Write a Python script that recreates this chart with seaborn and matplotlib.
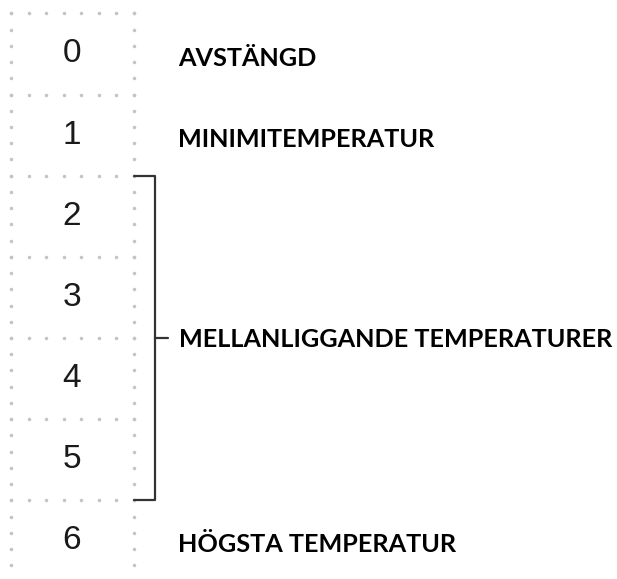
import numpy as np
import pandas as pd
import seaborn as sns
import matplotlib.pyplot as plt

# Heat levels and their descriptions
levels = [0, 1, 2, 3, 4, 5, 6]
labels = ['AVSTÄNGD', 'MINIMITEMPERATUR', '', '', '', '', 'HÖGSTA TEMPERATUR']
group_levels = [2, 5]
group_label = 'MELLANLIGGANDE TEMPERATURER'

df = pd.DataFrame({'level': levels, 'label': labels})

sns.set_theme(style='white')
fig = plt.figure(figsize=(6.17, 5.79), dpi=100)
ax = fig.add_axes([0, 0, 1, 1])

# x in pixels, y in level units (row height ~81 px)
ax.set_xlim(0, 617)
ax.set_ylim(6.47, -0.665)
ax.axis('off')

# dotted grid of boxes (dot spacing ~17 px)
dot = dict(color='#c4c4c4', linestyle='', marker='.', markersize=3)
edges = np.array(levels + [levels[-1] + 1]) - 0.5
xs = np.linspace(11, 134, 8)
for e in edges:
    ax.plot(xs, np.full(len(xs), e), **dot)
ys = np.arange(edges[0], edges[-1] + 0.01, 0.2)
for x in [11, 134]:
    ax.plot(np.full(len(ys), x), ys, **dot)

for _, r in df.iterrows():
    ax.text(72, r['level'], str(r['level']), ha='center', va='center',
            fontsize=24, color='#1a1a1a', family='Liberation Sans')
    if r['label']:
        ax.text(178, r['level'] + 0.05, r['label'], ha='left', va='center',
                fontsize=18.2, fontweight='bold', color='#000000', family='Lato')

# bracket around the middle levels
lo, hi = group_levels[0] - 0.5, group_levels[1] + 0.5
mid = (lo + hi) / 2
bk = dict(color='#333333', lw=1.6)
ax.plot([134, 155, 155, 134], [lo, lo, hi, hi], **bk)
ax.plot([155, 168], [mid, mid], **bk)
ax.text(179, mid + 0.02, group_label, ha='left', va='center',
        fontsize=18.2, fontweight='bold', color='#000000', family='Lato')

fig.savefig('out.png', dpi=100)
